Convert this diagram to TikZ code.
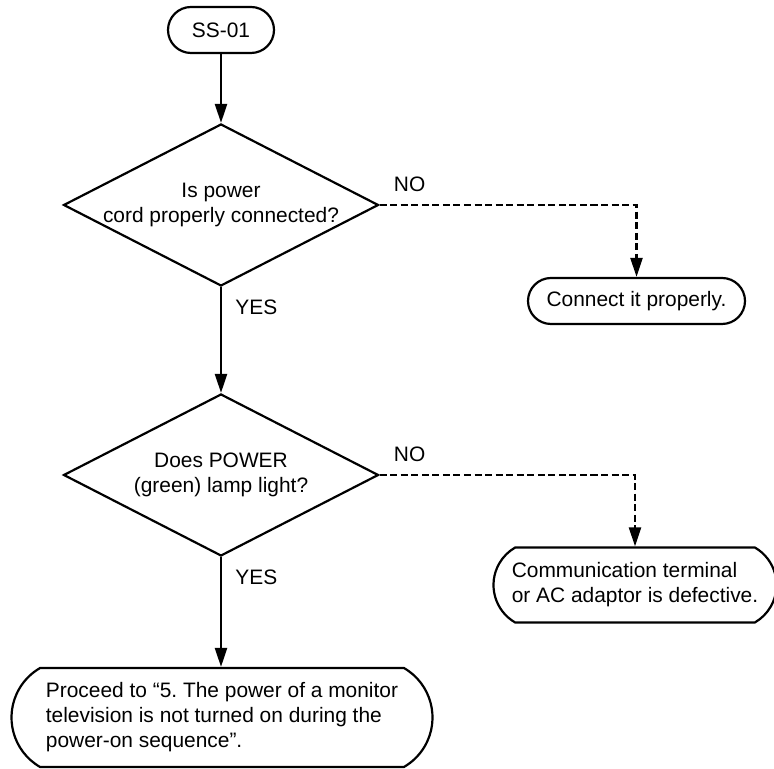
\documentclass[tikz,border=0pt]{standalone}
\usepackage{fontspec}
\setmainfont{Liberation Sans}
\frenchspacing
\usetikzlibrary{arrows.meta,positioning,shapes.geometric,shapes.misc}

\begin{document}
\begin{tikzpicture}[
    font=\fontsize{11.9}{14.2}\selectfont,
    >={Triangle[length=0.38cm, width=0.24cm]},
    term/.style={
      draw, rounded rectangle, line width=1.25pt,
      inner sep=0pt, align=center,
    },
    ask/.style={
      draw, diamond, line width=1.25pt, align=center,
      inner sep=-3pt, shape aspect=1.94,
      minimum width=6.3cm, minimum height=3.24cm,
    },
    lbl/.style={inner sep=0pt},
    yesedge/.style={->, line width=1.25pt},
    noedge/.style={->, line width=1.25pt, dash pattern=on 4pt off 2pt},
  ]
    \useasboundingbox (0,0) rectangle (15.48,15.36);

    % ===== main column =====
    \node[term, minimum width=2.12cm, minimum height=0.92cm] (start) at (4.42, 14.76) {SS-01};

    \node[ask] (cord) at (4.42, 11.26) {%
      Is power\\
      cord properly connected?};

    \node[ask] (lamp) at (4.42, 5.86) {%
      Does POWER\\
      (green) lamp light?};

    \node[term, rounded rectangle arc length=120, minimum width=8.42cm, minimum height=1.98cm,
          align=left] (proceed) at (4.44, 1.01) {%
      Proceed to “5. The power of a monitor\\
      television is not turned on during the\\
      power-on sequence”.};

    % ===== NO branches =====
    \node[term, minimum width=4.34cm, minimum height=0.92cm] (connect) at (12.73, 9.34) {Connect it properly.};

    \node[term, rounded rectangle arc length=120, minimum width=5.66cm, minimum height=1.5cm,
          align=left] (defect) at (12.70, 3.66) {%
      Communication terminal\\
      or AC adaptor is defective.};

    % ===== labels =====
    \node[lbl, above right=0.26cm and 0.28cm of cord.east] (no1) {NO};
    \node[lbl, below right=0.24cm and 0.28cm of cord.south] (yes1) {YES};
    \node[lbl, above right=0.26cm and 0.28cm of lamp.east] (no2) {NO};
    \node[lbl, below right=0.24cm and 0.28cm of lamp.south] (yes2) {YES};

    % ===== edges =====
    \draw[yesedge] (start.south) -- (cord.north);
    \draw[yesedge] (cord.south) -- (lamp.north);
    \draw[yesedge] (lamp.south) -- (lamp.south |- proceed.north);
    \draw[noedge] (cord.east) -| (connect.north);
    \draw[noedge] (lamp.east) -| (defect.north);

  \end{tikzpicture}
\end{document}
